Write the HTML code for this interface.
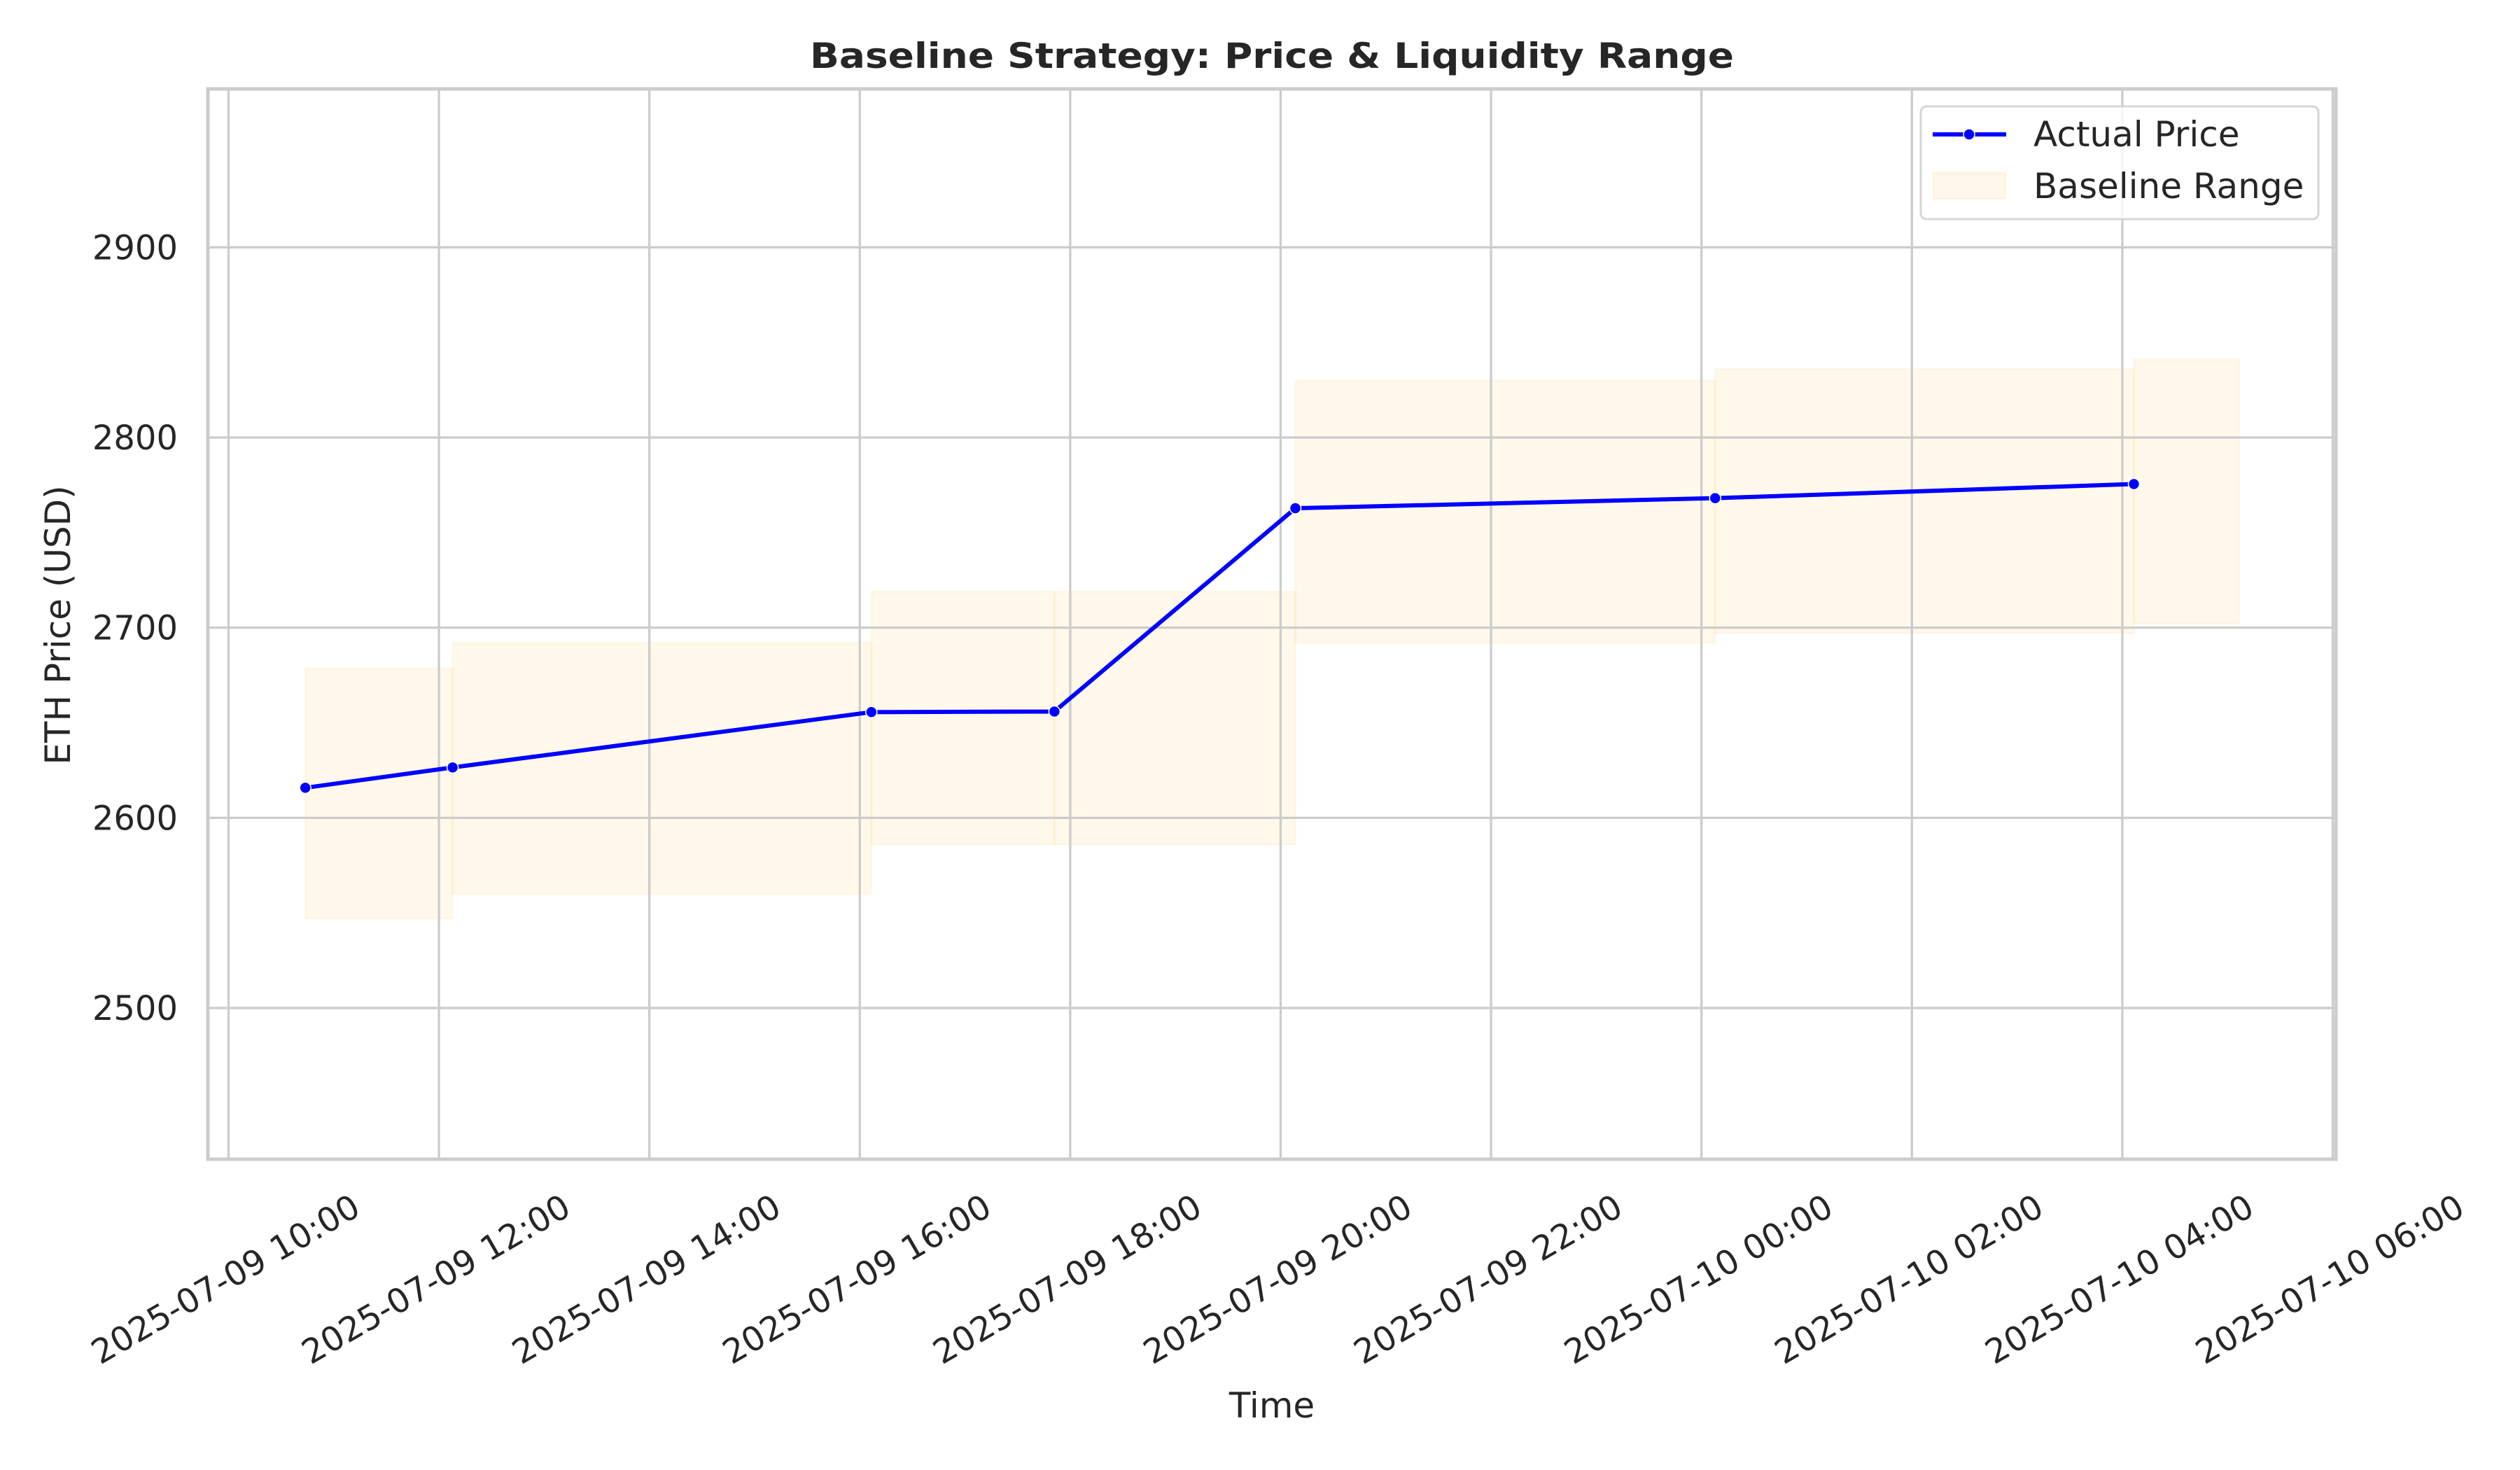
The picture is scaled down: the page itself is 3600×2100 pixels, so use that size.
<!DOCTYPE html>
<html><head><meta charset="utf-8"><style>
html,body{margin:0;padding:0;background:#fff;}
svg{display:block;font-family:"DejaVu Sans","Liberation Sans",sans-serif;}
</style></head><body>
<svg id="chart" width="3600" height="2100" viewBox="0 0 3600 2100" xmlns="http://www.w3.org/2000/svg">
<rect width="3600" height="2100" fill="#fff"/>
<g id="fills"></g>
<g id="grid"></g>
<g id="series"></g>
<g id="spines"></g>
<g id="ticks" font-size="48" fill="#262626"></g>
<text x="1817" y="97" text-anchor="middle" font-size="50" font-weight="bold" fill="#262626" textLength="1320" lengthAdjust="spacingAndGlyphs">Baseline Strategy: Price &amp; Liquidity Range</text>
<text transform="translate(100,893) rotate(-90)" text-anchor="middle" font-size="50" fill="#262626">ETH Price (USD)</text>
<text x="1817" y="2025" text-anchor="middle" font-size="50" fill="#262626">Time</text>
<g>
<rect x="2744" y="152" width="568" height="161" rx="8" fill="#fff" fill-opacity="0.8" stroke="#d6d6d6" stroke-width="3"/>
<g>
<line x1="2761" y1="192" x2="2866" y2="192" stroke="#0000ff" stroke-width="6"/>
<circle cx="2813" cy="192" r="8" fill="#0000ff" stroke="#fff" stroke-width="1.5"/>
<text x="2905" y="209" font-size="50" fill="#262626">Actual Price</text>
</g>
<g>
<rect x="2762" y="247" width="103" height="37" fill="rgba(255,165,0,0.08)" stroke="rgba(255,165,0,0.08)" stroke-width="3"/>
<text x="2905" y="283" font-size="50" fill="#262626">Baseline Range</text>
</g>
</g>
</svg>
<script>
const times = [10.73, 12.13, 16.11, 17.85, 20.14, 24.13, 28.11];
const prices = [2615.8, 2626.5, 2655.6, 2655.9, 2762.8, 2768.1, 2775.5];
const rangeLows = [2547, 2560, 2586, 2586, 2692, 2697, 2702];
const rangeHighs = [2678.6, 2692, 2719, 2719, 2830, 2836, 2841];
const rangeEnds = [12.13, 16.11, 17.85, 20.14, 24.13, 28.11, 29.11];
const yTicks = [2500, 2600, 2700, 2800, 2900];
const xTicks = [10, 12, 14, 16, 18, 20, 22, 24, 26, 28, 30];
const xTickLabels = ["2025-07-09 10:00","2025-07-09 12:00","2025-07-09 14:00","2025-07-09 16:00","2025-07-09 18:00","2025-07-09 20:00","2025-07-09 22:00","2025-07-10 00:00","2025-07-10 02:00","2025-07-10 04:00","2025-07-10 06:00"];

const NS = "http://www.w3.org/2000/svg";
const L = 297, R = 3337, T = 127, B = 1656;
const xMin = 9.804, xMax = 30.03, yMin = 2420.5, yMax = 2983.3;
const xs = v => L + (v - xMin) / (xMax - xMin) * (R - L);
const ys = v => B - (v - yMin) / (yMax - yMin) * (B - T);
function mk(tag, attrs, parent) {
  const e = document.createElementNS(NS, tag);
  for (const k in attrs) e.setAttribute(k, attrs[k]);
  parent.appendChild(e);
  return e;
}
const gF = document.getElementById('fills'), gG = document.getElementById('grid'),
      gS = document.getElementById('series'), gP = document.getElementById('spines'),
      gT = document.getElementById('ticks');

for (let i = 0; i < times.length; i++) {
  const r = mk('rect', {x: xs(times[i]), y: ys(rangeHighs[i]), width: xs(rangeEnds[i]) - xs(times[i]), height: ys(rangeLows[i]) - ys(rangeHighs[i]), fill: 'rgba(255,165,0,0.08)', stroke: 'rgba(255,165,0,0.06)', 'stroke-width': 3}, gF);
  
  
}
yTicks.forEach(v => {
  const l = mk('line', {x1: L, x2: R, y1: ys(v), y2: ys(v), stroke: '#cccccc', 'stroke-width': 3.3}, gG);
  
  
  const t = mk('text', {x: 254, y: ys(v) + 17, 'text-anchor': 'end'}, gT);
  t.textContent = String(v);
  
  
});
xTicks.forEach((v, i) => {
  const l = mk('line', {x1: xs(v), x2: xs(v), y1: T, y2: B, stroke: '#cccccc', 'stroke-width': 3.3}, gG);
  
  
  const t = mk('text', {'text-anchor': 'middle', 'dominant-baseline': 'central', transform: 'translate(' + (xs(v) - 4) + ',1828) rotate(-30)'}, gT);
  t.textContent = xTickLabels[i];
  
  
});
const pts = times.map((t, i) => xs(t) + ',' + ys(prices[i])).join(' ');
const pl = mk('polyline', {points: pts, fill: 'none', stroke: '#0000ff', 'stroke-width': 6, 'stroke-linejoin': 'round'}, gS);


times.forEach((t, i) => {
  const c = mk('circle', {cx: xs(t), cy: ys(prices[i]), r: 8, fill: '#0000ff', stroke: '#fff', 'stroke-width': 1.5}, gS);
  
  
});
const sp = mk('rect', {x: L, y: T, width: R - L, height: B - T, fill: 'none', stroke: '#cccccc', 'stroke-width': 5}, gP);


</script>
</body></html>
